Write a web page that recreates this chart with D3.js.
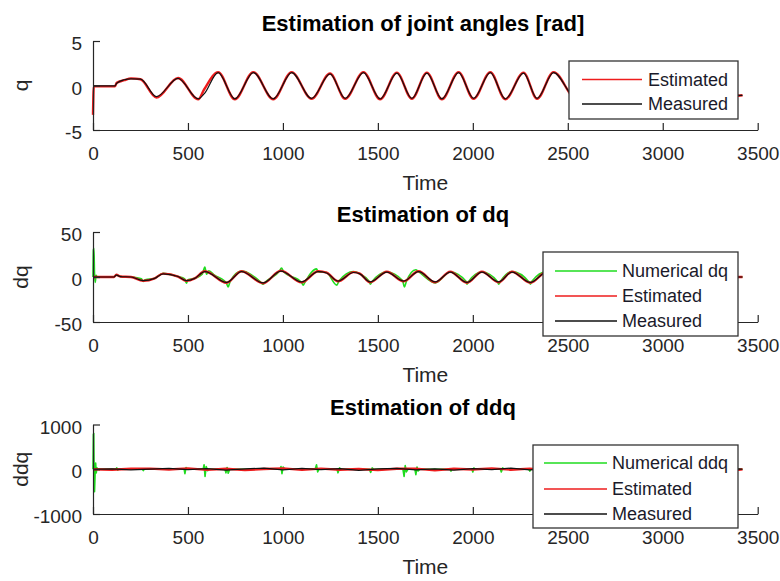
<!DOCTYPE html>
<html>
<head>
<meta charset="utf-8">
<script src="https://cdn.jsdelivr.net/npm/d3@7"></script>
<style>
  body { margin: 0; background: #fff; }
  svg { display: block; }
  text { font-family: "Liberation Sans", Arial, Helvetica, sans-serif; }
</style>
</head>
<body>
<svg id="chart" width="780" height="581"></svg>
<script>
// ---- shared time axis ----
const timeTicks = [0, 500, 1000, 1500, 2000, 2500, 3000, 3500];

// ---- joint angle q [rad] ----
const qTicks = [-5, 0, 5];
const qTime = [0, 4, 115, 125, 165, 200, 250, 334, 448, 554, 585, 659, 747, 844, 949, 1046, 1151,
  1248, 1328, 1424, 1512, 1600, 1679, 1758, 1837, 1925, 2004, 2092, 2171, 2267, 2338, 2425,
  2545, 2630, 2715, 2800, 2885, 2970, 3055, 3140, 3225, 3310, 3400, 3420];
const qMeasured = [-0.05, -0.05, -0.05, 0.25, 0.65, 0.75, 0.72, -1.25, 0.8, -1.5, -0.95, 1.45,
  -1.5, 1.45, -1.5, 1.45, -1.45, 1.3, -1.45, 1.45, -1.5, 1.4, -1.45, 1.4, -1.5, 1.45, -1.45,
  1.45, -1.5, 1.4, -1.45, 1.45, -1.45, 1.45, -1.45, 1.45, -1.45, 1.45, -1.45, 1.45, -1.45, 1.45,
  -1.1, -1.1];
const qEstimated = [-3.3, -0.1, -0.1, 0.3, 0.6, 0.8, 0.7, -1.35, 0.85, -1.55, -0.45, 1.5,
  -1.55, 1.5, -1.55, 1.5, -1.5, 1.35, -1.5, 1.5, -1.55, 1.45, -1.5, 1.45, -1.55, 1.5, -1.5,
  1.5, -1.55, 1.45, -1.5, 1.5, -1.5, 1.5, -1.5, 1.5, -1.5, 1.5, -1.5, 1.5, -1.5, 1.5,
  -1.15, -1.1];

// ---- joint velocity dq ----
const dqTicks = [-50, 0, 50];
const dqTime = [0, 110, 123, 145, 200, 264, 325, 369, 448, 492,
  536, 589, 703, 782, 896, 989, 1098, 1186, 1230, 1290,
  1372, 1405, 1459, 1547, 1635, 1714, 1802, 1881, 1969, 2048,
  2136, 2206, 2303, 2390, 2480, 2585, 2670, 2755, 2840, 2925,
  3010, 3095, 3180, 3265, 3350, 3400, 3420];
const dqMeasured = [0, 0, 2, 0.5, 0, -4, -1.5, 3.5, 0.5, -4,
  -1.5, 6, -6, 6, -6.5, 6.5, -5.5, 6, 4.5, -4.5,
  5, 3.5, -5.5, 5.5, -4.5, 6, -5.5, 5.5, -6, 5.5,
  -5.5, 5.5, -6, 5.5, -5.5, 5.5, -5.5, 5.5, -5.5, 5.5,
  -5.5, 5.5, -5.5, 5.5, -4, 0, 0];
const dqEstimated = [0, 0, 2.5, 0.5, 0, -4.3, -1.5, 3.8, 0.5, -4.3,
  -1.5, 6.4, -6.4, 6.4, -6.9, 6.9, -5.9, 6.4, 4.8, -4.8,
  5.4, 3.8, -5.9, 5.9, -4.8, 6.4, -5.9, 5.9, -6.4, 5.9,
  -5.9, 5.9, -6.4, 5.9, -5.9, 5.9, -5.9, 5.9, -5.9, 5.9,
  -5.9, 5.9, -5.9, 5.9, -4.3, 0, 0];
const dqNumTime = [0, 2, 5, 8, 12, 16, 22, 110, 123, 145,
  200, 255, 264, 275, 325, 369, 448, 483, 492, 500,
  536, 575, 589, 598, 610, 640, 690, 703, 712, 722,
  782, 880, 896, 910, 980, 993, 1003, 1098, 1107, 1118,
  1177, 1186, 1230, 1284, 1295, 1372, 1405, 1455, 1460, 1470,
  1547, 1630, 1640, 1650, 1700, 1714, 1802, 1881, 1965, 1969,
  1978, 2048, 2130, 2136, 2145, 2206, 2298, 2303, 2310, 2390,
  2480, 2585, 2670, 2755, 2840, 2925, 3010, 3095, 3180, 3265,
  3350, 3400, 3420];
const dqNumerical = [0, 30, 32, 4, -6, 2, 0, 0, 2.5, 0.5,
  0, -2, -5, -3, -1.5, 4, 0.5, -2, -7, -3,
  -1.5, 3, 11, 3, 7, 2, -4, -7, -11, -5,
  6.5, -5, -8, -5, 6, 10, 6, -6, -9, -5,
  9, 6, 5, -9, -4.5, 6, 3.5, -5, -8, -5,
  5.5, -4, -11, -5, 8, 6, -6.5, 5.5, -5, -8,
  -5, 5.5, -5, -8, -5, 6, -6, -8, -5, 6,
  -5.5, 5.5, -5.5, 5.5, -5.5, 5.5, -5.5, 5.5, -5.5, 5.5,
  -4, 0, 0];

// ---- joint acceleration ddq ----
const ddqTicks = [-1000, 0, 1000];
const ddqTime = [0, 100, 200, 300, 400, 500, 600, 700, 800, 900,
  1000, 1100, 1200, 1300, 1400, 1500, 1600, 1700, 1800, 1900,
  2000, 2100, 2200, 2300, 2400, 2500, 2600, 2700, 2800, 2900,
  3000, 3100, 3200, 3300, 3400, 3420];
const ddqMeasured = [0, 10, -15, 5, 20, -10, 15, -20, 10, 25,
  -15, 20, -10, 15, -25, 10, 20, -15, 10, -20,
  15, -10, 25, -15, 10, -20, 15, -10, 20, -15,
  10, -10, 15, -20, 10, 0];
const ddqEstimated = [0, -10, 10, 15, -5, 20, -15, 10, -20, 5,
  20, -15, 15, -10, 5, -20, 10, 15, -25, 10,
  -5, 20, -10, 15, -20, 5, -10, 20, -15, 10,
  -20, 15, -5, 10, -15, 0];
const ddqNumTime = [0, 2, 4, 6, 8, 11, 14, 17, 21, 26,
  120, 125, 130, 135, 260, 265, 270, 480, 484, 490,
  498, 580, 585, 590, 596, 604, 612, 695, 700, 706,
  712, 720, 985, 990, 995, 1001, 1010, 1170, 1177, 1183,
  1190, 1285, 1290, 1298, 1306, 1455, 1462, 1470, 1478, 1632,
  1638, 1644, 1650, 1658, 1695, 1700, 1706, 1712, 1720, 1880,
  1885, 1890, 1995, 2000, 2006, 2012, 2145, 2150, 2157, 2165,
  2295, 2300, 2305, 3420];
const ddqNumerical = [0, 780, 800, -150, -500, -120, 140, -80, 30, 0,
  0, 30, -20, 0, 0, -30, 0, 0, -100, 40,
  0, 0, 100, -160, 60, -30, 0, 0, -80, 40,
  -90, 0, 0, 60, -100, 50, 0, 0, 100, -60,
  0, 0, -80, 30, 0, 0, -70, 30, 0, 0,
  -160, 80, -60, 0, 0, -120, 50, -40, 0, 0,
  -40, 0, 0, -60, 30, 0, 0, -60, 30, 0,
  0, -40, 0, 0];

// ---- styling ----
const AXIS_COLOR = "#262626";
const COLORS = { numerical: "#1fdc1f", estimated: "#ee1c1c", measured: "#111111" };
const WIDTHS = { numerical: 1.6, estimated: 2.4, measured: 1.2 };

const svg = d3.select("#chart");
const x = d3.scaleLinear().domain([0, 3500]).range([93, 757.7]);
const plainNumber = d => String(d);   // no thousands separators, ASCII minus

const zip = (t, v) => t.map((ti, i) => [ti, v[i]]);

const panels = [
  {
    top: 41, bottom: 130, ticks: qTicks,
    title: "Estimation of joint angles [rad]", titleY: 30.7,
    ylabel: "q",
    series: [
      { key: "estimated", label: "Estimated", data: zip(qTime, qEstimated), curve: d3.curveMonotoneX },
      { key: "measured", label: "Measured", data: zip(qTime, qMeasured), curve: d3.curveMonotoneX }
    ],
    legend: { x0: 569, y0: 61, x1: 738, y1: 119, lx0: 582, lx1: 642, tx: 648, rows: [79.5, 104] }
  },
  {
    top: 232, bottom: 322, ticks: dqTicks,
    title: "Estimation of dq", titleY: 221.7,
    ylabel: "dq",
    series: [
      { key: "numerical", label: "Numerical dq", data: zip(dqNumTime, dqNumerical), curve: d3.curveMonotoneX },
      { key: "estimated", label: "Estimated", data: zip(dqTime, dqEstimated), curve: d3.curveMonotoneX },
      { key: "measured", label: "Measured", data: zip(dqTime, dqMeasured), curve: d3.curveMonotoneX }
    ],
    legend: { x0: 543, y0: 252, x1: 738, y1: 336, lx0: 555, lx1: 617, tx: 622, rows: [271, 296, 321] }
  },
  {
    top: 424.5, bottom: 514, ticks: ddqTicks,
    title: "Estimation of ddq", titleY: 415,
    ylabel: "ddq",
    series: [
      { key: "numerical", label: "Numerical ddq", data: zip(ddqNumTime, ddqNumerical), curve: d3.curveLinear },
      { key: "estimated", label: "Estimated", data: zip(ddqTime, ddqEstimated), curve: d3.curveLinear },
      { key: "measured", label: "Measured", data: zip(ddqTime, ddqMeasured), curve: d3.curveLinear }
    ],
    legend: { x0: 533, y0: 445, x1: 738, y1: 528, lx0: 544, lx1: 607, tx: 612, rows: [463, 489, 514] }
  }
];

panels.forEach(p => {
  const y = d3.scaleLinear().domain([p.ticks[0], p.ticks[2]]).range([p.bottom, p.top]);
  const g = svg.append("g");

  // data lines (drawn in plotting order: numerical, estimated, measured)
  p.series.forEach(s => {
    g.append("path")
      .datum(s.data)
      .attr("fill", "none")
      .attr("stroke", COLORS[s.key])
      .attr("stroke-width", WIDTHS[s.key])
      .attr("stroke-linejoin", "round")
      .attr("d", d3.line().x(d => x(d[0])).y(d => y(d[1])).curve(s.curve));
  });

  // axes: inward ticks, left and bottom only
  const xAxis = g.append("g")
    .attr("transform", `translate(0,${p.bottom})`)
    .call(d3.axisBottom(x).tickValues(timeTicks).tickSizeInner(-7).tickSizeOuter(0).tickPadding(17)
      .tickFormat(plainNumber));
  const yAxis = g.append("g")
    .attr("transform", `translate(${x(0)},0)`)
    .call(d3.axisLeft(y).tickValues(p.ticks).tickSizeInner(-7).tickSizeOuter(0).tickPadding(11)
      .tickFormat(plainNumber));
  [xAxis, yAxis].forEach(a => {
    a.select(".domain").attr("stroke", AXIS_COLOR).attr("stroke-width", 1.2);
    a.selectAll(".tick line").attr("stroke", AXIS_COLOR).attr("stroke-width", 1.2);
    a.selectAll(".tick text").attr("fill", AXIS_COLOR).style("font-size", "19px")
      .style("font-family", "'Liberation Sans', Arial, sans-serif");
  });
  yAxis.selectAll(".tick text").attr("dy", "0.45em");
  xAxis.selectAll(".tick text").attr("dy", "0.71em");

  // title
  g.append("text")
    .attr("x", 423).attr("y", p.titleY)
    .attr("text-anchor", "middle")
    .style("font-size", "22px").style("font-weight", "bold")
    .attr("fill", "#000")
    .text(p.title);

  // x label
  g.append("text")
    .attr("x", (x.range()[0] + x.range()[1]) / 2).attr("y", p.bottom + 60)
    .attr("text-anchor", "middle")
    .style("font-size", "21px").attr("fill", AXIS_COLOR)
    .text("Time");

  // y label
  g.append("text")
    .attr("transform", `translate(28,${(p.top + p.bottom) / 2}) rotate(-90)`)
    .attr("text-anchor", "middle")
    .style("font-size", "21px").attr("fill", AXIS_COLOR)
    .text(p.ylabel);

  // legend
  const L = p.legend;
  const lg = g.append("g");
  lg.append("rect")
    .attr("x", L.x0).attr("y", L.y0)
    .attr("width", L.x1 - L.x0).attr("height", L.y1 - L.y0)
    .attr("fill", "#fff").attr("stroke", "#333").attr("stroke-width", 1.3);
  p.series.forEach((s, i) => {
    const ry = L.rows[i];
    lg.append("line")
      .attr("x1", L.lx0).attr("x2", L.lx1).attr("y1", ry).attr("y2", ry)
      .attr("stroke", COLORS[s.key]).attr("stroke-width", 1.6);
    lg.append("text")
      .attr("x", L.tx).attr("y", ry).attr("dy", "0.36em")
      .style("font-size", "18px").attr("fill", "#1a1a2a")
      .text(s.label);
  });
});
</script>
</body>
</html>
